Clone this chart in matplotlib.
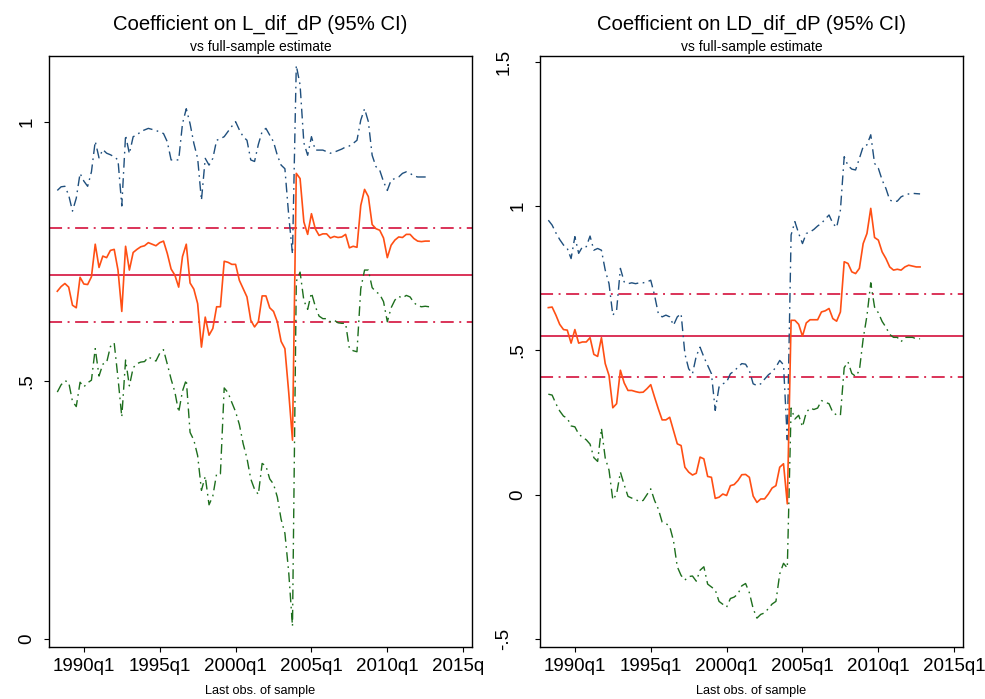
import matplotlib
matplotlib.use('Agg')
import matplotlib.pyplot as plt
from matplotlib.transforms import Bbox, TransformedBbox
import numpy as np

plt.rcParams['font.family'] = ['Liberation Sans', 'DejaVu Sans']
plt.rcParams['lines.scale_dashes'] = False

# Stata quarterly dates (1960q1 = 0), last obs. of sample 1988q2 .. 2012q4
quarters = np.arange(113, 212)

# Coefficient on L_dif_dP, rolling estimate and 95% CI
l_est = [0.673, 0.682, 0.688, 0.681, 0.646, 0.641, 0.700, 0.687, 0.686, 0.701,
         0.764, 0.719, 0.741, 0.738, 0.752, 0.754, 0.714, 0.634, 0.760, 0.714,
         0.748, 0.754, 0.759, 0.761, 0.767, 0.764, 0.761, 0.767, 0.770, 0.746,
         0.716, 0.704, 0.681, 0.740, 0.764, 0.689, 0.677, 0.649, 0.565, 0.623,
         0.588, 0.601, 0.643, 0.643, 0.731, 0.729, 0.725, 0.725, 0.694, 0.678,
         0.662, 0.617, 0.604, 0.614, 0.664, 0.664, 0.641, 0.634, 0.614, 0.576,
         0.562, 0.478, 0.385, 0.901, 0.891, 0.807, 0.783, 0.823, 0.794, 0.781,
         0.784, 0.784, 0.776, 0.779, 0.777, 0.778, 0.783, 0.757, 0.760, 0.758,
         0.839, 0.870, 0.856, 0.802, 0.794, 0.791, 0.776, 0.738, 0.762, 0.772,
         0.778, 0.777, 0.783, 0.783, 0.775, 0.770, 0.769, 0.770, 0.770]
l_hi = [0.868, 0.875, 0.876, 0.859, 0.828, 0.853, 0.901, 0.886, 0.876, 0.904,
        0.963, 0.931, 0.947, 0.940, 0.937, 0.933, 0.927, 0.838, 0.975, 0.939,
        0.972, 0.975, 0.982, 0.985, 0.988, 0.986, 0.984, 0.981, 0.978, 0.962,
        0.927, 0.927, 0.927, 0.997, 1.026, 0.997, 0.959, 0.930, 0.849, 0.930,
        0.917, 0.930, 0.965, 0.968, 0.972, 0.982, 0.992, 1.001, 0.985, 0.972,
        0.965, 0.927, 0.924, 0.957, 0.982, 0.988, 0.975, 0.962, 0.936, 0.917,
        0.910, 0.820, 0.745, 1.110, 1.072, 0.960, 0.936, 0.972, 0.946, 0.946,
        0.946, 0.943, 0.940, 0.942, 0.945, 0.948, 0.952, 0.954, 0.959, 0.965,
        1.004, 1.026, 1.001, 0.936, 0.914, 0.907, 0.885, 0.868, 0.888, 0.891,
        0.894, 0.901, 0.904, 0.901, 0.896, 0.894, 0.894, 0.894, 0.894]
l_lo = [0.478, 0.492, 0.500, 0.497, 0.460, 0.450, 0.497, 0.488, 0.496, 0.501,
        0.562, 0.509, 0.532, 0.535, 0.566, 0.573, 0.505, 0.430, 0.540, 0.490,
        0.525, 0.533, 0.536, 0.537, 0.546, 0.542, 0.538, 0.553, 0.560, 0.532,
        0.503, 0.478, 0.439, 0.480, 0.502, 0.400, 0.385, 0.355, 0.288, 0.315,
        0.260, 0.277, 0.320, 0.320, 0.486, 0.477, 0.458, 0.440, 0.415, 0.378,
        0.350, 0.310, 0.290, 0.280, 0.340, 0.335, 0.310, 0.300, 0.275, 0.232,
        0.205, 0.130, 0.025, 0.692, 0.710, 0.655, 0.638, 0.670, 0.644, 0.625,
        0.620, 0.620, 0.614, 0.617, 0.612, 0.611, 0.611, 0.562, 0.558, 0.556,
        0.678, 0.714, 0.714, 0.680, 0.672, 0.667, 0.653, 0.614, 0.641, 0.656,
        0.663, 0.660, 0.665, 0.662, 0.651, 0.645, 0.643, 0.644, 0.643]
l_full = [0.704, 0.795, 0.613]  # full-sample estimate, upper, lower

# Coefficient on LD_dif_dP
ld_est = [0.648, 0.650, 0.622, 0.590, 0.572, 0.570, 0.525, 0.572, 0.525, 0.529,
          0.529, 0.544, 0.486, 0.479, 0.544, 0.454, 0.413, 0.301, 0.315, 0.431,
          0.387, 0.361, 0.361, 0.357, 0.354, 0.355, 0.367, 0.381, 0.338, 0.297,
          0.259, 0.259, 0.268, 0.222, 0.176, 0.170, 0.095, 0.078, 0.068, 0.074,
          0.130, 0.124, 0.063, 0.060, -0.013, -0.009, 0.002, -0.003, 0.031, 0.035,
          0.049, 0.069, 0.070, 0.060, -0.005, -0.027, -0.015, -0.015, 0.002, 0.023,
          0.031, 0.095, 0.107, -0.032, 0.604, 0.604, 0.590, 0.549, 0.595, 0.606,
          0.606, 0.606, 0.633, 0.637, 0.645, 0.610, 0.601, 0.633, 0.807, 0.801,
          0.772, 0.766, 0.784, 0.870, 0.905, 0.992, 0.891, 0.882, 0.841, 0.818,
          0.789, 0.778, 0.781, 0.778, 0.789, 0.795, 0.792, 0.789, 0.789]
ld_hi = [0.951, 0.934, 0.907, 0.884, 0.865, 0.853, 0.818, 0.894, 0.836, 0.859,
         0.859, 0.896, 0.847, 0.853, 0.847, 0.778, 0.731, 0.622, 0.639, 0.784,
         0.737, 0.731, 0.734, 0.731, 0.734, 0.734, 0.737, 0.743, 0.691, 0.627,
         0.616, 0.622, 0.616, 0.587, 0.616, 0.627, 0.488, 0.436, 0.419, 0.480,
         0.511, 0.477, 0.448, 0.419, 0.292, 0.373, 0.384, 0.390, 0.419, 0.428,
         0.442, 0.454, 0.452, 0.430, 0.384, 0.378, 0.384, 0.400, 0.415, 0.425,
         0.442, 0.465, 0.450, 0.190, 0.900, 0.946, 0.905, 0.870, 0.905, 0.910,
         0.919, 0.931, 0.940, 0.955, 0.969, 0.940, 0.926, 0.986, 1.171, 1.140,
         1.128, 1.125, 1.165, 1.206, 1.212, 1.247, 1.148, 1.131, 1.090, 1.061,
         1.021, 1.015, 1.017, 1.032, 1.038, 1.042, 1.044, 1.043, 1.042]
ld_lo = [0.348, 0.345, 0.315, 0.290, 0.272, 0.265, 0.238, 0.235, 0.210, 0.199,
         0.190, 0.175, 0.128, 0.115, 0.230, 0.127, 0.085, -0.018, 0.002, 0.078,
         0.034, -0.006, -0.012, -0.017, -0.024, -0.020, 0.000, 0.020, -0.020, -0.050,
         -0.095, -0.100, -0.110, -0.160, -0.250, -0.280, -0.296, -0.284, -0.282, -0.300,
         -0.262, -0.250, -0.310, -0.320, -0.330, -0.370, -0.380, -0.390, -0.360, -0.355,
         -0.344, -0.316, -0.308, -0.340, -0.395, -0.428, -0.415, -0.410, -0.395, -0.379,
         -0.370, -0.275, -0.238, -0.254, 0.300, 0.262, 0.275, 0.235, 0.285, 0.300,
         0.295, 0.300, 0.326, 0.320, 0.315, 0.285, 0.276, 0.275, 0.440, 0.460,
         0.420, 0.410, 0.430, 0.540, 0.620, 0.734, 0.650, 0.630, 0.600, 0.580,
         0.555, 0.545, 0.545, 0.530, 0.545, 0.545, 0.545, 0.540, 0.540]
ld_full = [0.549, 0.694, 0.406]

xticks = [120, 140, 160, 180, 200, 220]

ORANGE = '#ff4f14'
NAVY = '#1f4f7d'
GREEN = '#1d6e1d'
RED = '#d4103c'
HDASH = (9.4, 4.0, 1.4, 4.0)
CIDASH = (7.0, 3.2, 1.2, 3.2)


def qlabel(q):
    return '%dq%d' % (1960 + q // 4, q % 4 + 1)


def panel(ax, est, hi, lo, full, yticks, ylabels, ylim, title, outer=()):
    ax.axhline(full[0], color=RED, lw=1.2)
    ax.axhline(full[1], color=RED, lw=1.2, dashes=HDASH)
    ax.axhline(full[2], color=RED, lw=1.2, dashes=HDASH)
    ax.plot(quarters, hi, color=NAVY, lw=1.0, dashes=CIDASH)
    ax.plot(quarters, lo, color=GREEN, lw=1.0, dashes=CIDASH)
    ax.plot(quarters, est, color=ORANGE, lw=1.2)

    ax.set_xlim(110.8, 222.3)
    ax.set_ylim(ylim)
    ax.set_xticks(xticks)
    ax.set_xticklabels([qlabel(q) for q in xticks])
    ax.set_yticks(yticks)
    # Stata pushes the end labels of the right axis a little further out
    shown = ['' if y in outer else lab for y, lab in zip(yticks, ylabels)]
    ax.set_yticklabels(shown, rotation=90, va='center')
    for y, lab in zip(yticks, ylabels):
        if y in outer:
            ax.text(-0.085, y, lab, transform=ax.get_yaxis_transform(),
                    rotation=90, ha='center', va='center', fontsize=13.5)
    ax.tick_params(direction='out', length=3.6, width=0.8, labelsize=13.5)
    ax.tick_params(axis='x', pad=4)
    ax.tick_params(axis='y', pad=6)
    for s in ax.spines.values():
        s.set_linewidth(1.0)

    x0 = ax.get_position().x0 + ax.get_position().width / 2
    fig.text(x0, 0.9657, title, ha='center', va='center', fontsize=14.6)
    fig.text(x0, 0.9330, 'vs full-sample estimate', ha='center', va='center', fontsize=10)
    fig.text(x0, 0.011, 'Last obs. of sample', ha='center', va='center', fontsize=9.2)


fig = plt.figure(figsize=(9.85, 6.99), dpi=100)
ax1 = fig.add_axes([0.0497, 0.0744, 0.4294, 0.8455])
ax2 = fig.add_axes([0.5482, 0.0744, 0.4294, 0.8455])

panel(ax1, l_est, l_hi, l_lo, l_full, [0, 0.5, 1], ['0', '.5', '1'],
      (-0.015, 1.128), 'Coefficient on L_dif_dP (95% CI)')
panel(ax2, ld_est, ld_hi, ld_lo, ld_full, [-0.5, 0, 0.5, 1, 1.5],
      ['-.5', '0', '.5', '1', '1.5'], (-0.528, 1.52),
      'Coefficient on LD_dif_dP (95% CI)', outer=(-0.5, 1.5))

# the left graph is clipped at its own region, cutting its last date label
left_region = TransformedBbox(Bbox([[0, 0], [0.491, 1]]), fig.transFigure)
for lab in ax1.get_xticklabels():
    lab.set_clip_box(left_region)
    lab.set_clip_on(True)

fig.savefig('out.png', dpi=100)
